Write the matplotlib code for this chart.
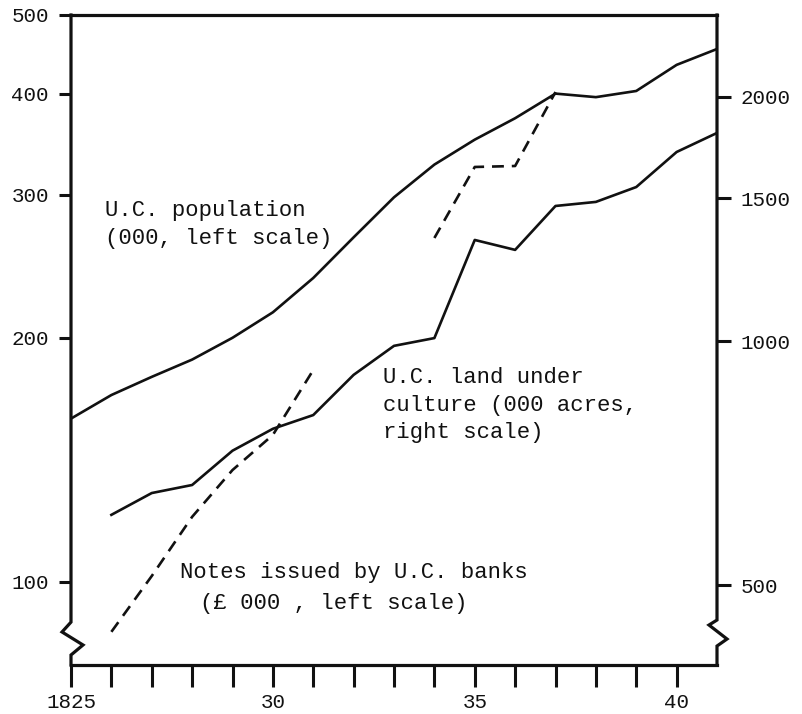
import matplotlib
matplotlib.use("Agg")
import matplotlib.pyplot as plt
from matplotlib.lines import Line2D
from matplotlib.ticker import FixedLocator, FixedFormatter, NullLocator

# ---- data ----
years_pop = [1825, 1826, 1827, 1828, 1829, 1830, 1831, 1832, 1833,
             1834, 1835, 1836, 1837, 1838, 1839, 1840, 1841]
population = [159, 170, 179, 188, 200, 215, 237, 266, 298,
              327, 351, 373, 400, 396, 403, 434, 454]          # 000, left scale

years_land = [1826, 1827, 1828, 1829, 1830, 1831, 1832, 1833,
              1834, 1835, 1836, 1837, 1838, 1839, 1840, 1841]
land = [611, 650, 665, 733, 780, 811, 909, 987,
        1009, 1333, 1296, 1468, 1485, 1549, 1711, 1806]        # 000 acres, right scale

years_notes_a = [1826, 1827, 1828, 1829, 1830, 1831]
notes_a = [86.8, 101.7, 120.3, 137.4, 151.8, 182.5]           # £000, left scale
years_notes_b = [1834, 1835, 1836, 1837]
notes_b = [265.5, 324.8, 325.7, 401.8]

left_ticks = [100, 200, 300, 400, 500]
right_ticks = [500, 1000, 1500, 2000]
x_ticks = list(range(1825, 1841))
x_labels = {1825: "1825", 1830: "30", 1835: "35", 1840: "40"}

FONT = "Liberation Mono"
INK = "#111111"

fig = plt.figure(figsize=(8.02, 7.14), dpi=100)
ax = fig.add_axes([71 / 802, 1 - 665 / 714, (717 - 71) / 802, (665 - 15) / 714])
ax2 = ax.twinx()

ax.set_yscale("log")
ax2.set_yscale("log")
ax.set_xlim(1825, 1841)
ax.set_ylim(79, 500)
ax2.set_ylim(399, 2524)

lw = 1.9
ax.plot(years_pop, population, color=INK, lw=lw)
ax.plot(years_notes_a, notes_a, color=INK, lw=lw, ls=(0, (4.5, 3)))
ax.plot(years_notes_b, notes_b, color=INK, lw=lw, ls=(0, (4.5, 3)))
ax2.plot(years_land, land, color=INK, lw=lw)

# ticks
ax.yaxis.set_major_locator(FixedLocator(left_ticks))
ax.yaxis.set_major_formatter(FixedFormatter([str(v) for v in left_ticks]))
ax.yaxis.set_minor_locator(NullLocator())
ax2.yaxis.set_major_locator(FixedLocator(right_ticks))
ax2.yaxis.set_major_formatter(FixedFormatter([str(v) for v in right_ticks]))
ax2.yaxis.set_minor_locator(NullLocator())
ax.set_xticks(x_ticks)
ax.set_xticklabels([x_labels.get(y, "") for y in x_ticks])

ax.tick_params(axis="y", direction="out", length=9, width=2.2, pad=7,
               labelsize=15, colors=INK)
ax2.tick_params(axis="y", direction="out", length=10, width=2.2, pad=7,
                labelsize=15, colors=INK)
ax.tick_params(axis="x", direction="out", length=16, width=2.2, pad=4,
               labelsize=15, colors=INK)
for lab in ax.get_xticklabels() + ax.get_yticklabels() + ax2.get_yticklabels():
    lab.set_fontfamily(FONT)

# frame
for a in (ax, ax2):
    for s in a.spines.values():
        s.set_visible(False)
alw = 2.3
tr = ax.transAxes
ax.add_line(Line2D([0, 1], [1, 1], transform=tr, color=INK, lw=alw, clip_on=False))
ax.add_line(Line2D([0, 1], [0, 0], transform=tr, color=INK, lw=alw, clip_on=False))
# left axis with break
ax.add_line(Line2D([0, 0, -0.0139, 0.0186, 0, 0],
                   [1, 0.0660, 0.0508, 0.0308, 0.0154, 0],
                   transform=tr, color=INK, lw=alw, clip_on=False,
                   solid_joinstyle="miter"))
# right axis with break
ax.add_line(Line2D([1, 1, 0.9876, 1.0155, 1, 1],
                   [1, 0.0692, 0.0615, 0.040, 0.0292, 0],
                   transform=tr, color=INK, lw=alw, clip_on=False,
                   solid_joinstyle="miter"))

# annotations (one text per line, baselines in axes fraction)
tk = dict(transform=tr, fontfamily=FONT, fontsize=16, color=INK,
          ha="left", va="baseline")
ax.text(0.0526, 0.6908, "U.C. population", **tk)
ax.text(0.0526, 0.6477, "(000, left scale)", **tk)
ax.text(0.483, 0.4338, "U.C. land under", **tk)
ax.text(0.483, 0.3908, "culture (000 acres,", **tk)
ax.text(0.483, 0.3492, "right scale)", **tk)
ax.text(0.169, 0.1338, "Notes issued by U.C. banks", **tk)
ax.text(0.200, 0.0862, "(£ 000 , left scale)", **tk)

fig.savefig("out.png", dpi=100)
